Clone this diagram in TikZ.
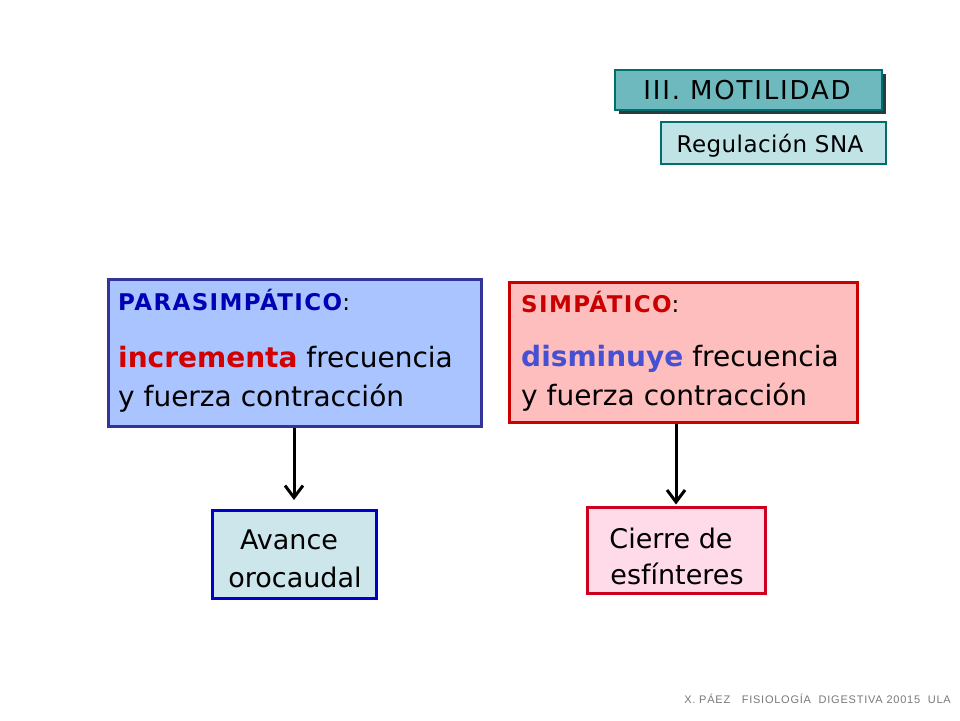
\documentclass[tikz,border=0pt]{standalone}
\usepackage{fontspec}
\setmainfont{DejaVu Sans}
\newfontfamily\footfont{Liberation Sans}
\usetikzlibrary{arrows.meta}
\definecolor{hdrfill}{RGB}{110,185,190}
\definecolor{hdrdraw}{RGB}{0,110,110}
\definecolor{hdrshadow}{RGB}{40,60,60}
\definecolor{regfill}{RGB}{192,228,230}
\definecolor{lfill}{RGB}{170,196,255}
\definecolor{ldraw}{RGB}{51,51,153}
\definecolor{rfill}{RGB}{255,190,190}
\definecolor{rdraw}{RGB}{200,0,0}
\definecolor{pblue}{RGB}{0,0,180}
\definecolor{ired}{RGB}{210,0,0}
\definecolor{dblue}{RGB}{70,80,210}
\definecolor{afill}{RGB}{205,230,235}
\definecolor{adraw}{RGB}{0,0,200}
\definecolor{cfill}{RGB}{255,218,232}
\definecolor{cdraw}{RGB}{204,0,30}
\definecolor{footgray}{RGB}{120,120,120}
\tikzset{
  boxstyle/.style={rectangle, inner sep=0pt, line width=3pt},
  txt/.style={anchor=base west, inner sep=0pt},
  ctxt/.style={anchor=base, inner sep=0pt, font=\fontsize{27}{31}\selectfont},
  conn/.style={line width=3pt, -{Straight Barb[length=12pt,width=18pt,line width=3pt]}},
}
\begin{document}
\begin{tikzpicture}[x=1pt,y=-1pt]
\useasboundingbox (0,0) rectangle (960,720);
% header
\fill[hdrshadow] (619,74) rectangle (886,114);
\node[boxstyle, line width=2pt, draw=hdrdraw, fill=hdrfill, minimum width=267pt, minimum height=40pt] (hdr) at (748.5,90) {};
\node[inner sep=0pt, anchor=base] (hdrtxt) at (747,99) {\fontsize{26}{30}\selectfont\addfontfeature{LetterSpace=7}III. MOTILIDAD};
\node[boxstyle, line width=2pt, draw=hdrdraw, fill=regfill, minimum width=225pt, minimum height=42pt] (reg) at (773.5,143) {};
\node[inner sep=0pt, anchor=base] (regtxt) at (770,152) {\fontsize{23}{27}\selectfont\addfontfeature{LetterSpace=2}Regulación SNA};
% left box
\node[boxstyle, draw=ldraw, fill=lfill, minimum width=373pt, minimum height=147pt] (lbox) at (294.5,352.5) {};
\node[txt] (lt1) at (118,310) {\fontsize{23}{27}\selectfont{\bfseries\addfontfeature{LetterSpace=6}\color{pblue}PARASIMPÁTICO}:};
\node[txt] (lt2) at (118,367) {\fontsize{28}{32}\selectfont{\bfseries\color{ired}incrementa} frecuencia};
\node[txt] (lt3) at (118,406) {\fontsize{28}{32}\selectfont y fuerza contracción};
% right box
\node[boxstyle, draw=rdraw, fill=rfill, minimum width=348pt, minimum height=140pt] (rbox) at (683,352) {};
\node[txt] (rt1) at (521,312) {\fontsize{23}{27}\selectfont{\bfseries\addfontfeature{LetterSpace=6}\color{rdraw}SIMPÁTICO}:};
\node[txt] (rt2) at (521,366) {\fontsize{28}{32}\selectfont{\bfseries\color{dblue}disminuye} frecuencia};
\node[txt] (rt3) at (521,405) {\fontsize{28}{32}\selectfont y fuerza contracción};
% lower boxes
\node[boxstyle, draw=adraw, fill=afill, minimum width=164pt, minimum height=88pt] (avance) at (294,554.5) {};
\node[ctxt] (av1) at (289,549) {Avance};
\node[ctxt] (av2) at (295,587) {orocaudal};
\node[boxstyle, draw=cdraw, fill=cfill, minimum width=178pt, minimum height=86pt] (cierre) at (676,550) {};
\node[ctxt] (ci1) at (671,548) {Cierre de};
\node[ctxt] (ci2) at (677,584) {esfínteres};
% connectors
\draw[conn, shorten >=9pt] (lbox.south -| avance.north) -- (avance.north);
\draw[conn, shorten >=1pt] (rbox.south -| cierre.north) -- (cierre.north);
% footer
\node[anchor=base east, inner sep=0pt] (foot) at (951,703) {\footfont\fontsize{11}{13}\selectfont\addfontfeature{LetterSpace=7}\color{footgray}X. PÁEZ \ \ FISIOLOGÍA \ DIGESTIVA 20015 \ ULA};
\end{tikzpicture}
\end{document}
